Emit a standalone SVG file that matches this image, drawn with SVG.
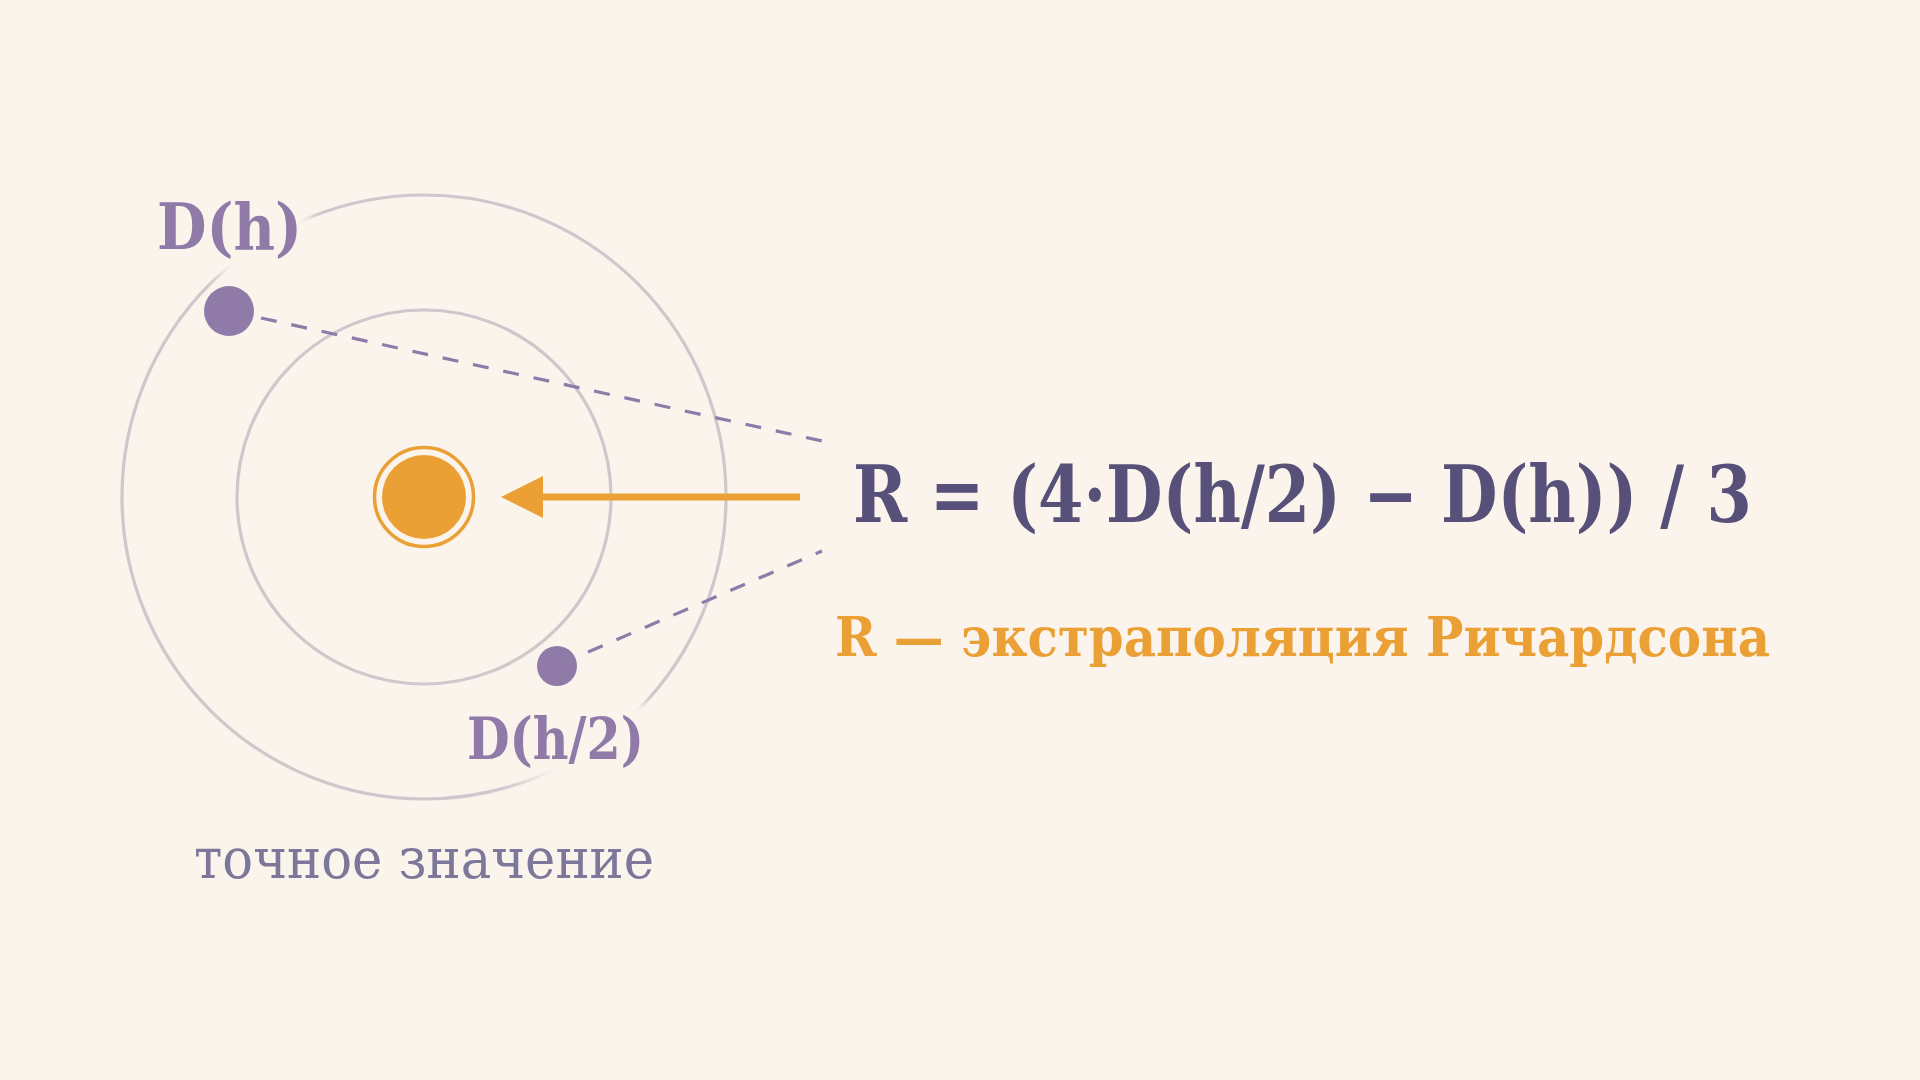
<svg xmlns="http://www.w3.org/2000/svg" width="1920" height="1080" viewBox="0 0 1920 1080">
  <style>
    .orbit { fill: none; stroke: #cdc8cc; stroke-width: 3.2; }
    .dash { fill: none; stroke: #8f7aa8; stroke-width: 3.2; stroke-dasharray: 16 15; }
    .lbl { font-family: "DejaVu Serif Condensed", "DejaVu Serif", serif; font-stretch: condensed; font-weight: bold; fill: #8f7aa8; }
    .formula { font-family: "DejaVu Serif Condensed", "DejaVu Serif", serif; font-stretch: condensed; font-weight: bold; fill: #575078; }
    .sub { font-family: "DejaVu Serif Condensed", "DejaVu Serif", serif; font-stretch: condensed; font-weight: bold; fill: #eba035; }
    .cap { font-family: "DejaVu Serif Condensed", "DejaVu Serif", serif; font-stretch: condensed; fill: #7d7799; }
    .halo { fill: #faf4ec; filter: url(#soft); }
  </style>
  <defs>
    <filter id="soft" x="-30%" y="-30%" width="160%" height="160%">
      <feGaussianBlur stdDeviation="7"/>
    </filter>
  </defs>
  <rect x="0" y="0" width="1920" height="1080" fill="#faf4ec"/>

  <g id="orbits">
    <circle class="orbit" cx="424" cy="497" r="302"/>
    <circle class="orbit" cx="424" cy="497" r="187"/>
  </g>

  <g id="halos">
    <rect class="halo" x="150" y="185" width="160" height="90" rx="20"/>
    <rect class="halo" x="458" y="700" width="196" height="80" rx="20"/>
  </g>

  <g id="connectors">
    <line class="dash" x1="261" y1="318" x2="822" y2="441"/>
    <line class="dash" x1="588" y1="652" x2="822" y2="551"/>
    <line x1="540" y1="497" x2="800" y2="497" stroke="#eba035" stroke-width="7"/>
    <polygon points="501,497 543,476 543,518" fill="#eba035"/>
  </g>

  <g id="exact">
    <circle cx="424" cy="497" r="49.5" fill="none" stroke="#eba035" stroke-width="3.5"/>
    <circle cx="424" cy="497" r="42" fill="#eba035"/>
    <text class="cap" x="194" y="878" font-size="56" textLength="460" lengthAdjust="spacingAndGlyphs">точное значение</text>
  </g>

  <g id="dh">
    <circle cx="229" cy="311" r="25" fill="#8f7aa8"/>
    <text class="lbl" x="157" y="249" font-size="64" textLength="145" lengthAdjust="spacingAndGlyphs">D(h)</text>
  </g>

  <g id="dh2">
    <circle cx="557" cy="666" r="20" fill="#8f7aa8"/>
    <text class="lbl" x="467" y="759" font-size="58" textLength="177" lengthAdjust="spacingAndGlyphs">D(h/2)</text>
  </g>

  <g id="formula">
    <text class="formula" x="853" y="522" font-size="78" textLength="899" lengthAdjust="spacingAndGlyphs">R = (4·D(h/2) − D(h)) / 3</text>
    <text class="sub" x="835" y="656" font-size="54" textLength="935" lengthAdjust="spacingAndGlyphs">R — экстраполяция Ричардсона</text>
  </g>
</svg>
